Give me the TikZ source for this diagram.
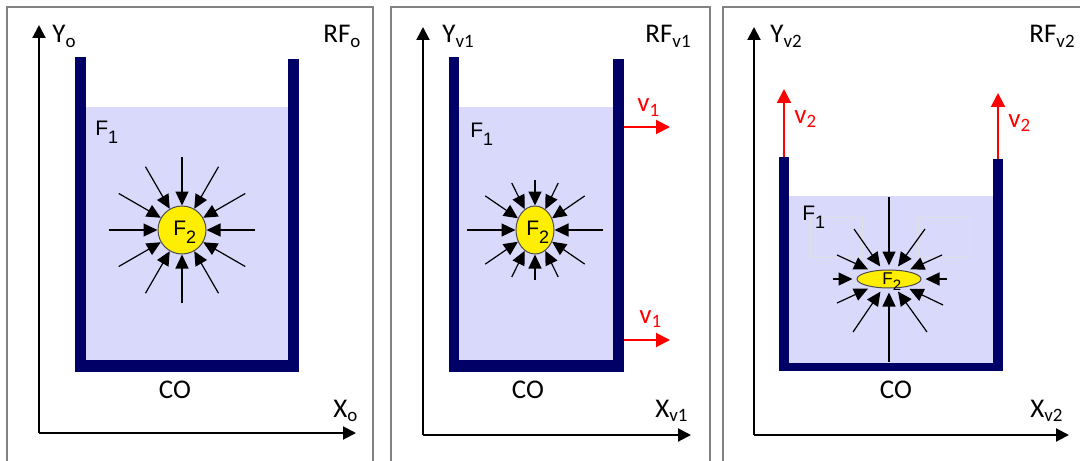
\documentclass[tikz,border=0pt]{standalone}
\usepackage{fontspec}
\setmainfont{Carlito}
\newfontfamily\arialfont{Liberation Sans}
\usetikzlibrary{arrows.meta,calc,shapes.geometric}
\definecolor{navy}{RGB}{0,0,102}
\definecolor{liquid}{RGB}{217,217,252}
\definecolor{frame}{RGB}{130,130,130}
\definecolor{drop}{RGB}{255,238,0}
\definecolor{vred}{RGB}{255,0,0}
\newcommand{\lowsub}[1]{\raisebox{-4pt}{\fontsize{9}{10}\selectfont #1}}

\begin{document}
\begin{tikzpicture}[
  x=0.5pt, y=-0.5pt,
  panel/.style={draw=frame, line width=0.6pt},
  axis/.style={-{Triangle[length=6.5pt,width=6.5pt]}, line width=1pt},
  push/.style={-{Triangle[length=7pt,width=6.5pt]}, line width=0.6pt},
  vel/.style={-{Triangle[length=7pt,width=7pt]}, line width=1pt, draw=vred},
  lbl/.style={inner sep=0pt, font=\fontsize{13.5}{15}\selectfont},
  flbl/.style={inner sep=0pt, font=\arialfont\fontsize{10.5}{12}\selectfont},
  vlbl/.style={lbl, text=vred},
  blob/.style={draw=black!70, line width=0.5pt, fill=drop, inner sep=0pt},
]
  \useasboundingbox (0,0) rectangle (1080,460);

  % frames
  \draw[panel] (7,7) rectangle (373,475);
  \draw[panel] (391,7) rectangle (710,475);
  \draw[panel] (723,7) rectangle (1095,475);

  % ---- panel 1: at rest
  \fill[liquid] (86,107) rectangle (288,360);
  \fill[navy] (75,57) rectangle (86,372);
  \fill[navy] (288,59) rectangle (299,372);
  \fill[navy] (75,360) rectangle (299,372);
  \coordinate (oA) at (39,433);
  \coordinate (yA) at (39,25);
  \coordinate (xA) at (356,433);
  \draw[axis] (oA) -- (yA);
  \draw[axis] (oA) -- (xA);
  \node[lbl, anchor=base west] (ylA) at (52,43) {Y\textsubscript{o}};
  \node[lbl, anchor=base west] (rfA) at (323,43) {RF\textsubscript{o}};
  \node[lbl, anchor=base west] (xlA) at (333,417) {X\textsubscript{o}};
  \node[lbl, anchor=base] (coA) at (175,398) {CO};
  \node[flbl, anchor=base west] (f1A) at (95,135) {F\lowsub{1}};
  \node[blob, circle, minimum size=24pt] (dropA) at (182,230) {};
  \node[flbl, anchor=base west] (f2A) at (173,235) {F\lowsub{2}};
  \foreach \a in {0,30,...,330} {
    \coordinate (pA\a) at ($(dropA)+(\a:73)$);
    \draw[push] (pA\a) -- (dropA);
  }

  % ---- panel 2: moving sideways
  \fill[liquid] (459,107) rectangle (613,360);
  \fill[navy] (449,57) rectangle (459,372);
  \fill[navy] (613,59) rectangle (624,372);
  \fill[navy] (449,360) rectangle (624,372);
  \coordinate (oB) at (423,435);
  \coordinate (yB) at (423,27);
  \coordinate (xB) at (691,435);
  \draw[axis] (oB) -- (yB);
  \draw[axis] (oB) -- (xB);
  \node[lbl, anchor=base west] (ylB) at (442,43) {Y\textsubscript{v1}};
  \node[lbl, anchor=base west] (rfB) at (645,43) {RF\textsubscript{v1}};
  \node[lbl, anchor=base west] (xlB) at (655,417) {X\textsubscript{v1}};
  \node[lbl, anchor=base] (coB) at (528,398) {CO};
  \node[flbl, anchor=base west] (f1B) at (470,137) {F\lowsub{1}};
  \node[blob, ellipse, minimum width=19pt, minimum height=24pt] (dropB) at (535,230) {};
  \node[flbl, anchor=base west] (f2B) at (526,235) {F\lowsub{2}};
  \foreach \a in {0,43,70,90,110,137,180,223,250,270,290,317} {
    \coordinate (pB\a) at ($(dropB)+({68*cos(\a)},{50*sin(\a)})$);
    \draw[push] (pB\a) -- (dropB);
  }
  \coordinate (vB1) at (624,127);
  \coordinate (vB1e) at (670,127);
  \coordinate (vB2) at (624,340);
  \coordinate (vB2e) at (670,340);
  \draw[vel] (vB1) -- (vB1e);
  \draw[vel] (vB2) -- (vB2e);
  \node[vlbl, anchor=base west] (v1a) at (637,112) {v\textsubscript{1}};
  \node[vlbl, anchor=base west] (v1b) at (639,323) {v\textsubscript{1}};

  % ---- panel 3: moving upwards
  \fill[liquid] (789,196) rectangle (993,363);
  \fill[navy] (779,157) rectangle (789,371);
  \fill[navy] (993,159) rectangle (1003,371);
  \fill[navy] (779,363) rectangle (1003,371);
  \draw[black!12, line width=0.4pt] (810,217) rectangle (862,257);
  \draw[black!12, line width=0.4pt] (918,217) rectangle (969,257);
  \coordinate (oC) at (754,435);
  \coordinate (yC) at (754,27);
  \coordinate (xC) at (1069,435);
  \draw[axis] (oC) -- (yC);
  \draw[axis] (oC) -- (xC);
  \node[lbl, anchor=base west] (ylC) at (770,43) {Y\textsubscript{v2}};
  \node[lbl, anchor=base west] (rfC) at (1029,43) {RF\textsubscript{v2}};
  \node[lbl, anchor=base west] (xlC) at (1030,417) {X\textsubscript{v2}};
  \node[lbl, anchor=base] (coC) at (896,398) {CO};
  \node[flbl, anchor=base west] (f1C) at (802,220) {F\lowsub{1}};
  \node[blob, ellipse, minimum width=32pt, minimum height=9pt] (dropC) at (889,279) {};
  \node[flbl, anchor=base west, font=\arialfont\fontsize{8.5}{9}\selectfont] (f2C) at (882,284) {F\raisebox{-3pt}{\fontsize{7.5}{8}\selectfont 2}};
  \foreach \dx/\dy [count=\i] in {-56/0,-52/-24,-35/-50,-52/24,-36/53,58/0,53/-24,36/-50,54/26,38/53,0/-82,0/83} {
    \coordinate (pC\i) at ($(dropC)+(\dx,\dy)$);
    \draw[push, shorten >=2pt] (pC\i) -- (dropC);
  }
  \coordinate (vC1) at (784,157);
  \coordinate (vC1e) at (784,89);
  \coordinate (vC2) at (998,159);
  \coordinate (vC2e) at (998,93);
  \draw[vel] (vC1) -- (vC1e);
  \draw[vel] (vC2) -- (vC2e);
  \node[vlbl, anchor=base west] (v2a) at (794,123) {v\textsubscript{2}};
  \node[vlbl, anchor=base west] (v2b) at (1008,127) {v\textsubscript{2}};
\end{tikzpicture}
\end{document}
